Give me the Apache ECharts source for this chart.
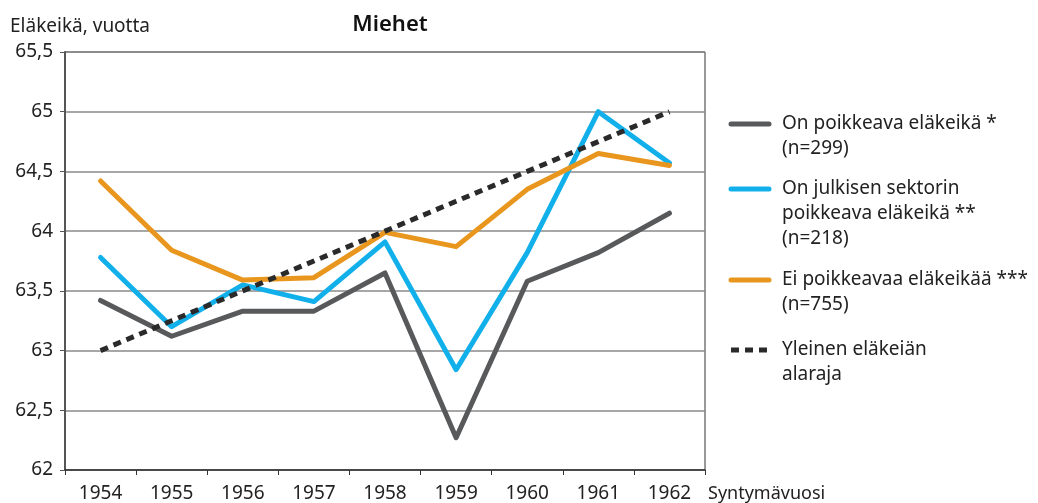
<!DOCTYPE html>
<html>
<head>
<meta charset="utf-8">
<script src="https://cdn.jsdelivr.net/npm/echarts@6/dist/echarts.min.js"></script>
<style>
  html, body { margin: 0; padding: 0; background: #fff; }
  #chart { width: 1038px; height: 503px; }
</style>
</head>
<body>
<div id="chart"></div>
<script>
// Data
const years = ['1954', '1955', '1956', '1957', '1958', '1959', '1960', '1961', '1962']
const poikkeava = [63.42, 63.12, 63.33, 63.33, 63.65, 62.27, 63.58, 63.82, 64.15]
const julkinen = [63.78, 63.2, 63.55, 63.41, 63.91, 62.84, 63.82, 65.0, 64.57]
const eiPoikkeavaa = [64.42, 63.84, 63.59, 63.61, 63.99, 63.87, 64.35, 64.65, 64.55]
const alaraja = [63.0, 63.25, 63.5, 63.75, 64.0, 64.25, 64.5, 64.75, 65.0]
const seriesNames = [
  'On poikkeava eläkeikä *\n(n=299)',
  'On julkisen sektorin\npoikkeava eläkeikä **\n(n=218)',
  'Ei poikkeavaa eläkeikää ***\n(n=755)',
  'Yleinen eläkeiän\nalaraja'
]
const colors = ['#58595b', '#12b0ea', '#e8961d', '#2a2a2a']

const font = '"Noto Sans", "Open Sans", sans-serif'
const chartDom = document.getElementById('chart')
const myChart = echarts.init(chartDom)

// legend drawn by hand so the line sits next to the first text row
const legendTops = [111, 176, 267, 337]
const legendGraphic = []
seriesNames.forEach((name, i) => {
  const y = legendTops[i] + 13
  legendGraphic.push({
    type: 'line',
    shape: { x1: 731, y1: y, x2: 769, y2: y },
    style: {
      stroke: colors[i],
      lineWidth: 5,
      lineCap: i === 3 ? 'butt' : 'round',
      lineDash: i === 3 ? [8, 6] : null
    }
  })
  legendGraphic.push({
    type: 'text',
    left: 782,
    top: legendTops[i],
    style: {
      text: name,
      font: '19px ' + font,
      fill: '#222',
      lineHeight: 25
    }
  })
})

const lineSeries = (name, data, color, dashed) => ({
  name: name,
  type: 'line',
  data: data,
  symbol: 'none',
  smooth: false,
  lineStyle: {
    color: color,
    width: 5,
    type: dashed ? [8, 6] : 'solid',
    cap: dashed ? 'butt' : 'round',
    join: 'round'
  },
  itemStyle: { color: color },
  z: dashed ? 5 : 3
})

const option = {
  animation: false,
  textStyle: { fontFamily: font },
  title: {
    text: 'Miehet',
    left: 385,
    top: 9,
    textAlign: 'center',
    textStyle: { fontSize: 22, fontWeight: 600, color: '#111', fontFamily: font }
  },
  grid: {
    left: 65,
    right: 333,
    top: 52,
    bottom: 33,
    show: true,
    borderColor: '#333',
    borderWidth: 1
  },
  xAxis: {
    type: 'category',
    data: years,
    boundaryGap: true,
    name: 'Syntymävuosi',
    nameLocation: 'end',
    nameGap: 3,
    nameTextStyle: {
      fontSize: 18, color: '#222', align: 'left', verticalAlign: 'top',
      padding: [15, 0, 0, 0]
    },
    axisLine: { lineStyle: { color: '#333', width: 1.5 } },
    axisTick: { show: true, alignWithLabel: false, length: 5, lineStyle: { color: '#333' } },
    axisLabel: { fontSize: 19, color: '#222', margin: 14, interval: 0 }
  },
  yAxis: {
    type: 'value',
    min: 62,
    max: 65.5,
    interval: 0.5,
    name: 'Eläkeikä, vuotta',
    nameLocation: 'end',
    nameGap: 16,
    nameTextStyle: { fontSize: 19, color: '#222', align: 'left', padding: [0, 0, 0, -55] },
    axisLine: { show: true, lineStyle: { color: '#555', width: 2 } },
    axisTick: { show: true, length: 5, inside: false, lineStyle: { color: '#555' } },
    axisLabel: {
      fontSize: 19, color: '#222', margin: 12,
      formatter: v => String(v).replace('.', ',')
    },
    splitLine: { show: true, lineStyle: { color: '#8a8a8a', width: 1.5 } }
  },
  graphic: legendGraphic,
  series: [
    lineSeries(seriesNames[0], poikkeava, colors[0], false),
    lineSeries(seriesNames[1], julkinen, colors[1], false),
    lineSeries(seriesNames[2], eiPoikkeavaa, colors[2], false),
    lineSeries(seriesNames[3], alaraja, colors[3], true)
  ]
}

option && myChart.setOption(option)
</script>
</body>
</html>
